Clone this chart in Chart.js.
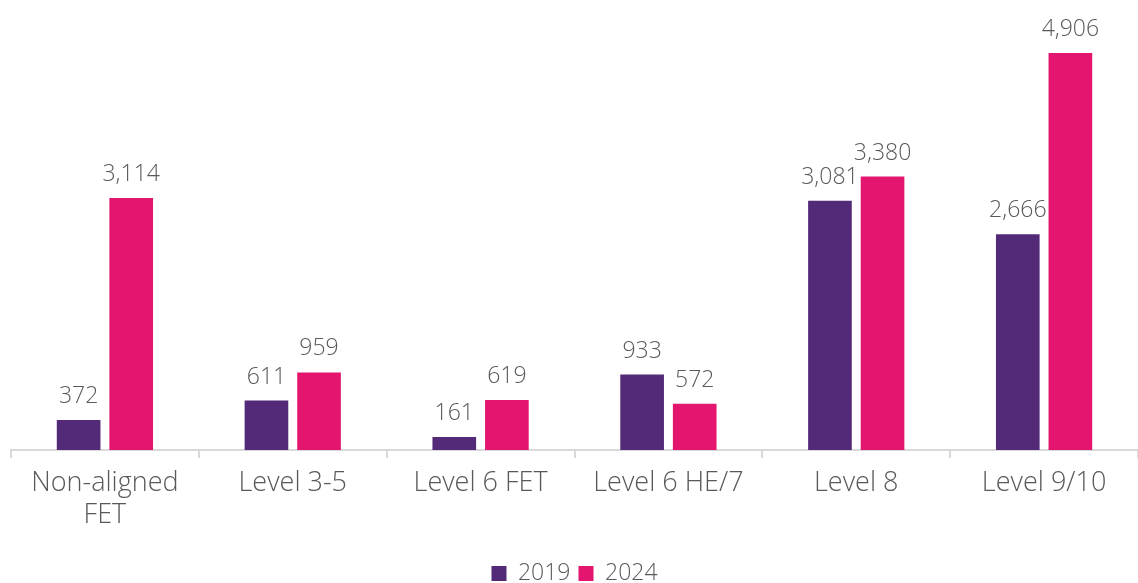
<!DOCTYPE html>
<html>
<head>
<meta charset="utf-8">
<script src="https://cdn.jsdelivr.net/npm/chart.js@4"></script>
<style>
  html, body { margin: 0; padding: 0; background: #fff; }
  #wrap { width: 1138px; height: 583px; }
</style>
</head>
<body>
<div id="wrap"><canvas id="myChart"></canvas></div>
<script>
const categories = [['Non-aligned', 'FET'], 'Level 3-5', 'Level 6 FET', 'Level 6 HE/7', 'Level 8', 'Level 9/10'];
const values2019 = [372, 611, 161, 933, 3081, 2666];
const values2024 = [3114, 959, 619, 572, 3380, 4906];

// draw the value above each bar
const barLabels = {
    id: 'barLabels',
    afterDatasetsDraw(chart) {
        const c = chart.ctx;
        c.save();
        c.font = '300 23px "Open Sans"';
        c.fillStyle = '#595959';
        c.textAlign = 'center';
        c.textBaseline = 'bottom';
        chart.data.datasets.forEach((ds, i) => {
            chart.getDatasetMeta(i).data.forEach((bar, j) => {
                c.fillText(ds.data[j].toLocaleString('en-US'), bar.x, bar.y - 12);
            });
        });
        c.restore();
    }
};

new Chart(document.getElementById('myChart'), {
    type: 'bar',
    data: {
        labels: categories,
        datasets: [{
            label: '2019',
            backgroundColor: '#522A78',
            data: values2019,
            categoryPercentage: 0.56,
            barPercentage: 0.83
        }, {
            label: '2024',
            backgroundColor: '#E3156E',
            data: values2024,
            categoryPercentage: 0.56,
            barPercentage: 0.83
        }]
    },
    options: {
        responsive: true,
        maintainAspectRatio: false,
        animation: false,
        layout: { padding: { left: 11, top: 5, right: 0, bottom: -12 } },
        plugins: {
            legend: {
                position: 'bottom',
                labels: {
                    boxWidth: 15,
                    boxHeight: 15,
                    color: '#595959',
                    font: { family: 'Open Sans', size: 23, weight: 300 },
                    padding: 8
                }
            },
            tooltip: { enabled: false }
        },
        scales: {
            y: {
                display: false,
                min: 0,
                max: 5500
            },
            x: {
                afterFit(scale) { scale.height = 104; },
                grid: {
                    offset: true,
                    drawOnChartArea: false,
                    tickLength: 8,
                    color: '#d9d9d9',
                    lineWidth: 2
                },
                border: { color: '#d9d9d9', width: 2 },
                ticks: {
                    color: '#595959',
                    font: { family: 'Open Sans', size: 27, weight: 300, lineHeight: 1.2 },
                    padding: 9,
                    maxRotation: 0,
                    autoSkip: false
                }
            }
        }
    },
    plugins: [barLabels]
});
</script>
</body>
</html>
